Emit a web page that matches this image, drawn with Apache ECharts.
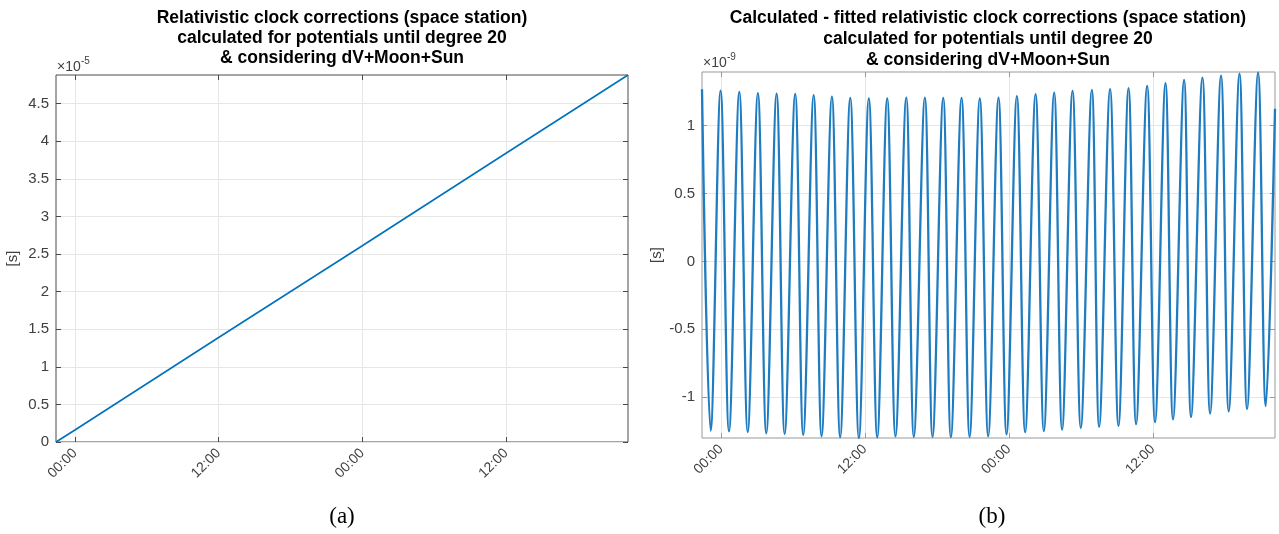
<!DOCTYPE html>
<html>
<head>
<meta charset="utf-8">
<title>Relativistic clock corrections (space station)</title>
<script src="https://cdn.jsdelivr.net/npm/echarts@6/dist/echarts.min.js"></script>
<style>
  html, body { margin: 0; padding: 0; background: #fff; }
  #chart { width: 1279px; height: 534px; }
</style>
</head>
<body>
<div id="chart"></div>
<script>
// time axis in hours, 0 = first 00:00 tick
var tStart = -1.58;
var tEnd = 46.19;
var xTickHours = [0, 12, 24, 36];
var xTickLabels = ['00:00', '12:00', '00:00', '12:00'];

// (a) relativistic clock correction, units of 1e-5 s
var corrTimes = [-1.58, 0, 12, 24, 36, 46.19];
var corrValues = [0, 0.16, 1.39, 2.61, 3.84, 4.88];
var corrTicks = [0, 0.5, 1, 1.5, 2, 2.5, 3, 3.5, 4, 4.5];

// (b) calculated - fitted, units of 1e-9 s (peaks and troughs)
var resTimes = [-1.58, -0.86, -0.03, 0.67, 1.53, 2.23, 3.08, 3.78, 4.64, 5.31,
  6.19, 6.86, 7.73, 8.39, 9.25, 9.94, 10.78, 11.5, 12.33, 13.03,
  13.86, 14.55, 15.45, 16.08, 17.0, 17.64, 18.53, 19.17, 20.06, 20.73,
  21.58, 22.28, 23.14, 23.81, 24.67, 25.36, 26.23, 26.92, 27.78, 28.44,
  29.31, 30.0, 30.92, 31.53, 32.44, 33.14, 33.98, 34.61, 35.53, 36.19,
  37.06, 37.69, 38.61, 39.19, 40.14, 40.78, 41.69, 42.33, 43.23, 43.86,
  44.78, 45.42, 46.19];
var resValues = [1.268, -1.245, 1.258, -1.250, 1.248, -1.255, 1.240, -1.265, 1.235, -1.270,
  1.233, -1.277, 1.224, -1.287, 1.213, -1.294, 1.204, -1.300, 1.201, -1.294,
  1.201, -1.287, 1.206, -1.291, 1.206, -1.291, 1.204, -1.294, 1.204, -1.291,
  1.201, -1.287, 1.206, -1.274, 1.218, -1.257, 1.231, -1.250, 1.243, -1.238,
  1.255, -1.225, 1.263, -1.218, 1.268, -1.210, 1.277, -1.198, 1.292, -1.184,
  1.312, -1.162, 1.336, -1.145, 1.353, -1.120, 1.368, -1.103, 1.382, -1.086,
  1.390, -1.066, 1.125];
var resTicks = [-1, -0.5, 0, 0.5, 1];

var font = '"Liberation Sans", Arial, sans-serif';
var labelGray = '#404040';

function pairs(xs, ys) {
  var out = [];
  for (var i = 0; i < xs.length; i++) out.push([xs[i], ys[i]]);
  return out;
}

// x axis (bottom with labels, top only ticks)
function timeAxis(grid, position, main, tickColor) {
  return {
    type: 'value', gridIndex: grid, position: position,
    min: tStart, max: tEnd,
    axisLine: { show: false, onZero: false },
    axisTick: { show: true, inside: true, length: 5, customValues: xTickHours,
      lineStyle: { color: tickColor } },
    axisLabel: { show: main, customValues: xTickHours, rotate: 45, margin: 9,
      fontSize: 14, color: labelGray, fontFamily: font,
      formatter: function (v) { return xTickLabels[xTickHours.indexOf(v)]; } },
    splitLine: { show: main, lineStyle: { color: '#e6e6e6' } }
  };
}

// y axis (left with labels, right only ticks)
function valAxis(grid, position, main, ticks, min, max, gap, tickColor) {
  return {
    type: 'value', gridIndex: grid, position: position,
    min: min, max: max,
    name: main ? '[s]' : '', nameLocation: 'middle', nameGap: gap,
    nameTextStyle: { fontSize: 15, color: labelGray, fontFamily: font },
    axisLine: { show: false, onZero: false },
    axisTick: { show: true, inside: true, length: 5, customValues: ticks,
      lineStyle: { color: tickColor } },
    axisLabel: { show: main, customValues: ticks, margin: 7,
      fontSize: 15, color: labelGray, fontFamily: font },
    splitLine: { show: main, lineStyle: { color: '#e6e6e6' } }
  };
}

function txt(x, y, text, size, opts) {
  opts = opts || {};
  return {
    type: 'text', x: x, y: y, silent: true,
    style: {
      text: text,
      fontSize: size,
      fontFamily: opts.family || font,
      fontWeight: opts.weight || 'normal',
      lineHeight: opts.lineHeight || size,
      fill: opts.color || '#000',
      textAlign: opts.align || 'left',
      textVerticalAlign: opts.valign || 'middle'
    }
  };
}

var myChart = echarts.init(document.getElementById('chart'));

var option = {
  animation: false,
  grid: [
    { left: 56, right: 651, top: 75, bottom: 92, show: true, borderColor: '#4a4a4a', borderWidth: 1 },
    { left: 702, right: 4, top: 72, bottom: 96, show: true, borderColor: '#999', borderWidth: 1 }
  ],
  xAxis: [
    timeAxis(0, 'bottom', true, '#4a4a4a'),
    timeAxis(0, 'top', false, '#4a4a4a'),
    timeAxis(1, 'bottom', true, '#999'),
    timeAxis(1, 'top', false, '#999')
  ],
  yAxis: [
    valAxis(0, 'left', true, corrTicks, 0, 4.88, 36, '#4a4a4a'),
    valAxis(0, 'right', false, corrTicks, 0, 4.88, 0, '#4a4a4a'),
    valAxis(1, 'left', true, resTicks, -1.3, 1.395, 38, '#999'),
    valAxis(1, 'right', false, resTicks, -1.3, 1.395, 0, '#999')
  ],
  series: [{
    name: 'correction', type: 'line', xAxisIndex: 0, yAxisIndex: 0,
    data: pairs(corrTimes, corrValues), showSymbol: false,
    lineStyle: { color: '#0072BD', width: 1.6 }
  }, {
    name: 'residual', type: 'line', xAxisIndex: 2, yAxisIndex: 2,
    data: pairs(resTimes, resValues), showSymbol: false, smooth: 0.36,
    lineStyle: { color: '#1f7cc0', width: 2.3 }
  }],
  graphic: [
    txt(342, 38, 'Relativistic clock corrections (space station)\ncalculated for potentials until degree 20\n& considering dV+Moon+Sun',
      17.5, { weight: 'bold', lineHeight: 20, align: 'center' }),
    txt(988, 39, 'Calculated - fitted relativistic clock corrections (space station)\ncalculated for potentials until degree 20\n& considering dV+Moon+Sun',
      17.5, { weight: 'bold', lineHeight: 21, align: 'center' }),
    txt(57, 67, '×10', 14, { color: labelGray }),
    txt(81, 61, '-5', 10, { color: labelGray }),
    txt(703, 63, '×10', 14, { color: labelGray }),
    txt(727, 57, '-9', 10, { color: labelGray }),
    txt(342, 517, '(a)', 23, { family: '"Liberation Serif", "Times New Roman", serif', align: 'center' }),
    txt(992, 517, '(b)', 23, { family: '"Liberation Serif", "Times New Roman", serif', align: 'center' })
  ]
};

myChart.setOption(option);
</script>
</body>
</html>
